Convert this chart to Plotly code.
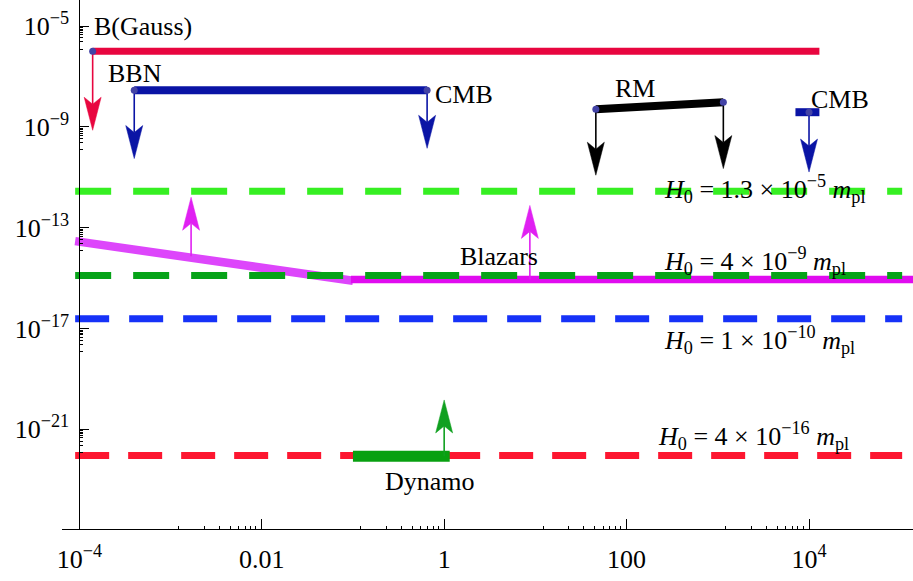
import numpy as np
import plotly.graph_objects as go

# ---------------- data ----------------
# Upper bound on B (Gauss), red solid
ub_x = [1.4e-4, 1.3e4]
ub_y = [1e-6, 1e-6]
# BBN -> CMB bound, dark blue
bbn_x = [4e-4, 0.65]
bbn_y = [2.85e-8, 2.85e-8]
# Rotation measure (RM), black
rm_x = [46, 1150]
rm_y = [5e-9, 9.5e-9]
# CMB (large scale), short dark-blue bar
cmb_x = [7.1e3, 1.3e4]
cmb_y = [3.8e-9, 3.8e-9]
# Blazars lower bound, magenta
blz_slope_x = [9e-5, 0.1]
blz_slope_y = [2.9e-14, 7.8e-16]
blz_flat_x = [0.095, 3e5]
blz_flat_y = [8.7e-16, 8.7e-16]
# Dynamo requirement, green
dyn_x = [0.1, 1.15]
dyn_y = [8.5e-23, 8.5e-23]

# H0 dashed levels
h0_x = [9e-5, 1.05e5]
h0_levels = [2.75e-12, 1.26e-15, 2.4e-17, 9e-23]
h0_colors = ["#36ef22", "#06a318", "#1632f8", "#fd1630"]
h0_dashes = ["36px,22px", "36px,22px", "34px,20px", "34px,19px"]
h0_mant = ["1.3", "4", "1", "4"]
h0_exp = ["−5", "−9", "−10", "−16"]
h0_label_x = [2.39, 2.39, 2.39, 2.32]        # log10 of label left edge
h0_label_y = [-11.45, -14.33, -17.45, -21.25]  # log10 of label centre

# Arrows: (x, base, tip, colour)
arrows = [
    (1.4e-4, 1e-6, 7.3e-10, "#e8063f"),
    (4e-4, 2.85e-8, 5.5e-11, "#0a14a5"),
    (0.65, 2.85e-8, 1.4e-10, "#0a14a5"),
    (46, 5e-9, 1.2e-11, "#000000"),
    (1150, 9.5e-9, 2.2e-11, "#000000"),
    (1e4, 3.8e-9, 1.6e-11, "#0a14a5"),
    (1.68e-3, 7.3e-15, 1.6e-12, "#e020f2"),
    (8.7, 8.7e-16, 7.6e-13, "#e020f2"),
    (1.0, 8.5e-23, 1.45e-20, "#10a020"),
]
# Marker dots (Mathematica points)
dot_x = [1.4e-4, 4e-4, 0.65, 46, 1150, 1e4]
dot_y = [1e-6, 2.85e-8, 2.85e-8, 5e-9, 9.5e-9, 3.8e-9]

# Axis ticks
x_major = [1e-4, 1e-2, 1, 1e2, 1e4]
x_major_text = ["10<sup>−4</sup>", "0.01", "1", "100", "10<sup>4</sup>"]
y_major = [1e-5, 1e-9, 1e-13, 1e-17, 1e-21]
y_major_text = ["10<sup>−5</sup>", "10<sup>−9</sup>", "10<sup>−13</sup>",
                "10<sup>−17</sup>", "10<sup>−21</sup>"]
minor_fracs = [0.122, 0.233, 0.34, 0.449, 0.555, 0.656, 0.757, 0.859]

# Text labels: (text, log10 x of left edge, log10 y of centre)
labels = [
    ("B(Gauss)", -3.86, -5.0),
    ("BBN", -3.71, -6.87),
    ("CMB", -0.12, -7.70),
    ("RM", 1.85, -7.46),
    ("CMB", 4.0, -7.90),
    ("Blazars", 0.15, -14.13),
    ("Dynamo", -0.67, -23.06),
]

# ---------------- layout constants ----------------
W, H = 913, 581
ML, MR, MT, MB = 62, 0, 0, 52
XR = [-4.19, 5.14]
YR = [-24.96, -3.968]
PXX = (W - ML - MR) / (XR[1] - XR[0])
PXY = (H - MT - MB) / (YR[1] - YR[0])
FONT = "Liberation Serif, Times New Roman, serif"

fig = go.Figure()


def line(x, y, color, width, dash="solid"):
    fig.add_trace(go.Scatter(x=x, y=y, mode="lines",
                             line=dict(color=color, width=width, dash=dash),
                             hoverinfo="skip", showlegend=False))


# main bounds
line(blz_slope_x, blz_slope_y, "#dd46fb", 8.5)
line(blz_flat_x, blz_flat_y, "#e00cef", 7.5)
for lv, c, d in zip(h0_levels, h0_colors, h0_dashes):
    line(h0_x, [lv, lv], c, 7, d)
line(ub_x, ub_y, "#e8063f", 7)
line(bbn_x, bbn_y, "#0a14a5", 8)
line(rm_x, rm_y, "#000000", 8)
line(cmb_x, cmb_y, "#0a14a5", 8)
line(dyn_x, dyn_y, "#08a010", 11)

# arrows
HL, HW, HN = 33, 17, 7  # head length, width, notch (px)
for x0, b, t, c in arrows:
    lx, lb, lt = np.log10(x0), np.log10(b), np.log10(t)
    d = 1 if lb > lt else -1
    back = lt + d * HL / PXY
    notch = lt + d * (HL - HN) / PXY
    dx = HW / 2 / PXX
    line([x0, x0], [b, 10 ** notch], c, 1.6)
    hx = [lx, lx + dx, lx, lx - dx, lx]
    hy = [lt, back, notch, back, lt]
    fig.add_trace(go.Scatter(x=[10 ** v for v in hx], y=[10 ** v for v in hy],
                             mode="lines", fill="toself", fillcolor=c,
                             line=dict(color=c, width=0.5),
                             hoverinfo="skip", showlegend=False))

fig.add_trace(go.Scatter(x=dot_x, y=dot_y, mode="markers",
                         marker=dict(color="#4343a6", size=7),
                         hoverinfo="skip", showlegend=False))

annotations = []
for txt, lx, ly in labels:
    annotations.append(dict(x=lx, y=ly, xref="x", yref="y", text=txt,
                            showarrow=False, xanchor="left", yanchor="middle",
                            font=dict(family=FONT, size=26, color="black")))
for m, e, lx, ly in zip(h0_mant, h0_exp, h0_label_x, h0_label_y):
    t = (f"<i>H</i><sub>0</sub> = {m} × 10<sup>{e}</sup> "
         f"<i>m</i><sub>pl</sub>")
    annotations.append(dict(x=lx, y=ly, xref="x", yref="y", text=t,
                            showarrow=False, xanchor="left", yanchor="middle",
                            font=dict(family=FONT, size=26, color="black")))

x_minor = [f * v for v in x_major[1:] for f in minor_fracs]
y_minor = [f * v for v in y_major for f in minor_fracs]

fig.update_layout(
    width=W, height=H,
    margin=dict(l=ML, r=MR, t=MT, b=MB, autoexpand=False),
    paper_bgcolor="white", plot_bgcolor="white",
    font=dict(family=FONT, size=26, color="black"),
    annotations=annotations,
    xaxis=dict(type="log", range=XR, showgrid=False, zeroline=False,
               automargin=False,
               showline=True, linecolor="black", linewidth=1,
               tickmode="array", tickvals=x_major, ticktext=x_major_text,
               ticks="inside", ticklen=10, tickcolor="black", tickwidth=1,
               ticklabelstandoff=7,
               minor=dict(tickvals=x_minor, ticks="inside", ticklen=3,
                          tickcolor="black", tickwidth=1, showgrid=False),
               tickfont=dict(family=FONT, size=26)),
    yaxis=dict(type="log", range=YR, showgrid=False, zeroline=False,
               automargin=False,
               anchor="free", position=(79.3 - ML) / (W - ML - MR),
               showline=True, linecolor="black", linewidth=1,
               tickmode="array", tickvals=y_major, ticktext=y_major_text,
               ticks="inside", ticklen=9, tickcolor="black", tickwidth=1,
               ticklabelstandoff=5,
               minor=dict(tickvals=y_minor, ticks="inside", ticklen=3,
                          tickcolor="black", tickwidth=1, showgrid=False),
               tickfont=dict(family=FONT, size=26)),
)

fig.write_html("out.html",
               config={"displayModeBar": False},
               post_script="document.body.style.margin='0';"
                           "document.body.style.overflow='hidden';")
